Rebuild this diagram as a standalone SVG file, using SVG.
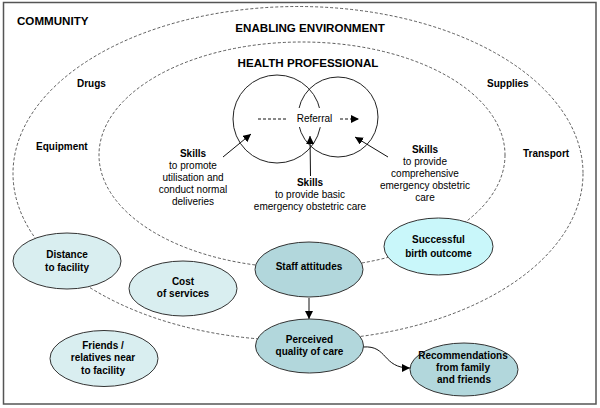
<svg xmlns="http://www.w3.org/2000/svg" width="600" height="408" viewBox="0 0 600 408">
<defs>
<style>
text{font-family:"Liberation Sans",Arial,sans-serif;fill:#000}
.h{font-size:11.6px;font-weight:bold}
.f{font-size:10px;font-weight:bold}
.s{font-size:10px;text-anchor:middle}
.sb{font-size:10px;font-weight:bold;text-anchor:middle}
.n{font-size:10px;font-weight:bold;text-anchor:middle}
.zone{fill:none;stroke:#333;stroke-width:0.8;stroke-dasharray:3,2}
.circ{fill:none;stroke:#222;stroke-width:1}
.dark{fill:#b2d7dc;stroke:#333;stroke-width:1}
.light{fill:#d9eef0;stroke:#333;stroke-width:1}
.cyan{fill:#c9f7fa;stroke:#333;stroke-width:1}
.con{fill:none;stroke:#111;stroke-width:1}
</style>
<marker id="ah" viewBox="0 0 10 10" refX="10" refY="5" markerWidth="8" markerHeight="8" markerUnits="userSpaceOnUse" orient="auto">
<path d="M0,0 L10,5 L0,10 z" fill="#000"/>
</marker>
</defs>
<rect x="3.5" y="2.5" width="592.5" height="401.5" fill="#fff" stroke="#555" stroke-width="1.5"/>
<g id="zones">
<ellipse class="zone" cx="298" cy="173.5" rx="285" ry="167"/>
<ellipse class="zone" cx="302" cy="155" rx="203" ry="113"/>
<circle class="circ" cx="277" cy="119" r="44"/>
<circle class="circ" cx="338" cy="117" r="40"/>
</g>
<g id="labels">
<text class="h" x="17" y="25">COMMUNITY</text>
<text class="h" x="310" y="32" text-anchor="middle">ENABLING ENVIRONMENT</text>
<text class="h" x="308" y="67" text-anchor="middle">HEALTH PROFESSIONAL</text>
<text class="f" x="77" y="87">Drugs</text>
<text class="f" x="36" y="150">Equipment</text>
<text class="f" x="487" y="87">Supplies</text>
<text class="f" x="523" y="157">Transport</text>
<rect x="294" y="108" width="42" height="19" fill="#fff"/>
<text class="s" x="314.5" y="122">Referral</text>
</g>
<g id="skills-left">
<text class="sb" x="193" y="157">Skills</text>
<text class="s" x="193" y="169">to promote</text>
<text class="s" x="193" y="181">utilisation and</text>
<text class="s" x="193" y="193">conduct normal</text>
<text class="s" x="193" y="205">deliveries</text>
</g>
<g id="skills-middle">
<text class="sb" x="310" y="186">Skills</text>
<text class="s" x="310" y="198">to provide basic</text>
<text class="s" x="310" y="210">emergency obstetric care</text>
</g>
<g id="skills-right">
<text class="sb" x="425" y="153">Skills</text>
<text class="s" x="425" y="165">to provide</text>
<text class="s" x="425" y="177">comprehensive</text>
<text class="s" x="425" y="189">emergency obstetric</text>
<text class="s" x="425" y="201">care</text>
</g>
<g id="connectors">
<line class="con" x1="258" y1="119" x2="287" y2="119" stroke-dasharray="3,2"/>
<line class="con" x1="340" y1="119" x2="359" y2="119" stroke-dasharray="3,2" marker-end="url(#ah)"/>
<line class="con" x1="223" y1="157" x2="251" y2="134" marker-end="url(#ah)"/>
<line class="con" x1="310.5" y1="176" x2="310" y2="136" marker-end="url(#ah)"/>
<line class="con" x1="388" y1="157" x2="355" y2="137" marker-end="url(#ah)"/>
<line class="con" x1="309" y1="298" x2="309" y2="319" marker-end="url(#ah)"/>
<path class="con" d="M363,347 C388,345 382,368 410,368" marker-end="url(#ah)"/>
</g>
<g id="distance">
<ellipse class="light" cx="67" cy="261" rx="54" ry="28"/>
<text class="n" x="67" y="258">Distance</text>
<text class="n" x="67" y="271">to facility</text>
</g>
<g id="cost">
<ellipse class="light" cx="183" cy="288.5" rx="54" ry="27.5"/>
<text class="n" x="183" y="285">Cost</text>
<text class="n" x="183" y="297">of services</text>
</g>
<g id="friends">
<ellipse class="light" cx="104" cy="358.5" rx="54" ry="28"/>
<text class="n" x="103" y="349">Friends /</text>
<text class="n" x="103" y="361">relatives near</text>
<text class="n" x="103" y="374">to facility</text>
</g>
<g id="staff">
<ellipse class="dark" cx="309" cy="269.5" rx="54" ry="27.5"/>
<text class="n" x="309" y="270">Staff attitudes</text>
</g>
<g id="successful">
<ellipse class="cyan" cx="438.5" cy="246.5" rx="54.5" ry="28.5"/>
<text class="n" x="438.5" y="243">Successful</text>
<text class="n" x="438.5" y="257">birth outcome</text>
</g>
<g id="perceived">
<ellipse class="dark" cx="309.5" cy="346" rx="54" ry="27"/>
<text class="n" x="309.5" y="343">Perceived</text>
<text class="n" x="309.5" y="355">quality of care</text>
</g>
<g id="recommendations">
<ellipse class="dark" cx="464" cy="369.5" rx="54" ry="26.5"/>
<text class="n" x="463" y="359" font-size="9.5">Recommendations</text>
<text class="n" x="463" y="371">from family</text>
<text class="n" x="464" y="383">and friends</text>
</g>
</svg>
